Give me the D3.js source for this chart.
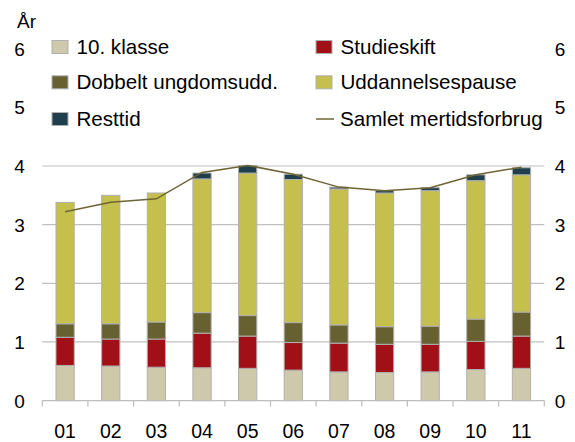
<!DOCTYPE html>
<html><head><meta charset="utf-8">
<script src="https://cdn.jsdelivr.net/npm/d3@7"></script>
<style>body{margin:0;background:#fff}svg{display:block;font-family:"Liberation Sans",Arial,sans-serif}</style>
</head><body><svg id="c" width="575" height="442"></svg>
<script>
const categories = ["01","02","03","04","05","06","07","08","09","10","11"];
const klasse10 = [0.60,0.59,0.57,0.56,0.55,0.52,0.49,0.48,0.49,0.53,0.55];
const studieskift = [0.48,0.46,0.48,0.59,0.55,0.47,0.49,0.48,0.47,0.48,0.55];
const dobbelt = [0.23,0.26,0.29,0.35,0.35,0.34,0.31,0.30,0.31,0.38,0.41];
const pause = [2.07,2.19,2.20,2.28,2.43,2.44,2.32,2.28,2.31,2.36,2.34];
const resttid = [0,0,0,0.10,0.13,0.09,0.03,0.04,0.05,0.10,0.12];
const samlet = [3.22,3.38,3.44,3.89,4.01,3.86,3.64,3.58,3.63,3.85,3.98];
const yTicks = [0,1,2,3,4,5,6];
const seriesNames = ["10. klasse","Studieskift","Dobbelt ungdomsudd.","Uddannelsespause","Resttid"];
const lineName = "Samlet mertidsforbrug";
const colors = ["#cfc9ab","#a01016","#676031","#c5bf4e","#1e3f4b"];
const lineColor = "#6e6535";

const svg = d3.select("#c");
const x = d3.scaleBand().domain(categories).range([42.3,544.3]).paddingInner(0.6).paddingOuter(0.3);
const y = d3.scaleLinear().domain([0,6]).range([400.6,48.7]);

// gridlines
svg.append("g").selectAll("line").data([1,2,3,4]).join("line")
  .attr("x1",42.3).attr("x2",544.3).attr("y1",d=>y(d)).attr("y2",d=>y(d))
  .attr("stroke","#c0c0c0").attr("stroke-width",1.2);

// stacked bars
const rows = categories.map((c,i)=>({cat:c, s0:klasse10[i], s1:studieskift[i], s2:dobbelt[i], s3:pause[i], s4:resttid[i]}));
const stack = d3.stack().keys(["s0","s1","s2","s3","s4"])(rows);
svg.append("g").selectAll("g").data(stack).join("g")
  .attr("fill",(d,i)=>colors[i])
  .selectAll("rect").data(d=>d.filter(p=>p[1]-p[0]>0)).join("rect")
  .attr("x",d=>x(d.data.cat)).attr("width",x.bandwidth())
  .attr("y",d=>y(d[1])).attr("height",d=>y(d[0])-y(d[1]))
  .attr("stroke","#b0b0b0").attr("stroke-width",1);

// x axis
const gx = svg.append("g").attr("transform","translate(0,400.6)");
gx.append("line").attr("x1",42.3).attr("x2",544.3).attr("stroke","#bdbdbd").attr("stroke-width",1.2);
const bounds = d3.range(categories.length+1).map(i=>42.3 + (544.3-42.3)*i/categories.length);
gx.selectAll("line.t").data(bounds).join("line").attr("class","t")
  .attr("x1",d=>d).attr("x2",d=>d).attr("y1",0).attr("y2",6).attr("stroke","#bdbdbd").attr("stroke-width",1.2);
gx.selectAll("text").data(categories).join("text")
  .attr("x",d=>x(d)+x.bandwidth()/2).attr("y",37).attr("text-anchor","middle")
  .attr("font-size",19.5).attr("fill","#000").text(d=>d);

// y axes labels
svg.append("g").selectAll("text").data(yTicks).join("text")
  .attr("x",19.5).attr("y",d=>y(d)+7).attr("text-anchor","middle").attr("font-size",19).text(d=>d);
svg.append("g").selectAll("text").data(yTicks).join("text")
  .attr("x",560).attr("y",d=>y(d)+7).attr("text-anchor","middle").attr("font-size",19).text(d=>d);
svg.append("text").attr("x",17).attr("y",28).attr("font-size",19).text("År");

// line
const line = d3.line().x((d,i)=>x(categories[i])+x.bandwidth()/2).y(d=>y(d));
svg.append("path").datum(samlet).attr("d",line).attr("fill","none").attr("stroke",lineColor).attr("stroke-width",1.5);

// legend
const leg = [
  {n:seriesNames[0],c:colors[0],x:52,y:47},
  {n:seriesNames[2],c:colors[2],x:52,y:82.3},
  {n:seriesNames[4],c:colors[4],x:52,y:119},
  {n:seriesNames[1],c:colors[1],x:316,y:47},
  {n:seriesNames[3],c:colors[3],x:316,y:82.3}
];
const lg = svg.append("g");
leg.forEach(l=>{
  lg.append("rect").attr("x",l.x).attr("y",l.y-6.5).attr("width",16).attr("height",13).attr("fill",l.c).attr("stroke","#b0b0b0").attr("stroke-width",1);
  lg.append("text").attr("x",l.x+24.5).attr("y",l.y+7).attr("font-size",20.6).text(l.n);
});
lg.append("line").attr("x1",316).attr("x2",334).attr("y1",119).attr("y2",119).attr("stroke",lineColor).attr("stroke-width",1.5);
lg.append("text").attr("x",340).attr("y",126).attr("font-size",20.6).text(lineName);
</script></body></html>
